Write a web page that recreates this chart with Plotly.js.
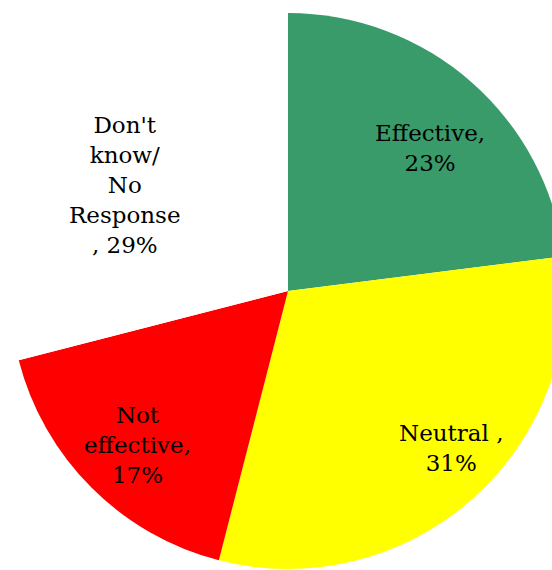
<!DOCTYPE html>
<html>
<head>
<meta charset="utf-8">
<script src="https://cdn.plot.ly/plotly-3.0.1.min.js"></script>
<style>
html, body { margin: 0; padding: 0; overflow: hidden; background: #fff; }
#chart { width: 566px; height: 570px; }
</style>
</head>
<body>
<div id="chart"></div>
<script>
// Data
const categories = ["Effective", "Neutral", "Not effective", "Don't know/No Response"];
const values = [23, 31, 17, 29];
const labelLines = ["Effective,", "Neutral ,", "Not<br>effective,", "Don't<br>know/<br>No<br>Response<br>,"];
const labelSeparators = ["<br>", "<br>", "<br>", " "];
const colors = ["#389B69", "#FFFF00", "#FF0000", "#FFFFFF"];

const W = 566, H = 570;
const margin = {l: 10, r: 0, t: 13, b: 1};
const plotW = W - margin.l - margin.r;
const plotH = H - margin.t - margin.b;

// label block centres in pixels
const labelPos = [[430, 148], [451, 448], [137, 445], [125, 185]];

const annotations = categories.map((c, i) => ({
  xref: 'paper', yref: 'paper',
  x: (labelPos[i][0] - margin.l) / plotW,
  y: (H - margin.b - labelPos[i][1]) / plotH,
  xanchor: 'center', yanchor: 'middle',
  showarrow: false,
  align: 'center',
  text: labelLines[i] + labelSeparators[i] + values[i] + '%',
  font: {family: 'DejaVu Serif', size: 23, color: '#000'}
}));

const trace = {
  type: 'pie',
  labels: categories,
  values: values,
  sort: false,
  direction: 'clockwise',
  rotation: 0,
  marker: {colors: colors, line: {width: 0}},
  textinfo: 'none',
  hoverinfo: 'label+percent',
  showlegend: false,
  domain: {x: [0, 1], y: [0, 1]}
};

const layout = {
  width: W, height: H,
  margin: margin,
  paper_bgcolor: '#fff',
  plot_bgcolor: '#fff',
  showlegend: false,
  annotations: annotations
};

Plotly.newPlot('chart', [trace], layout, {displayModeBar: false, staticPlot: true});
</script>
</body>
</html>
